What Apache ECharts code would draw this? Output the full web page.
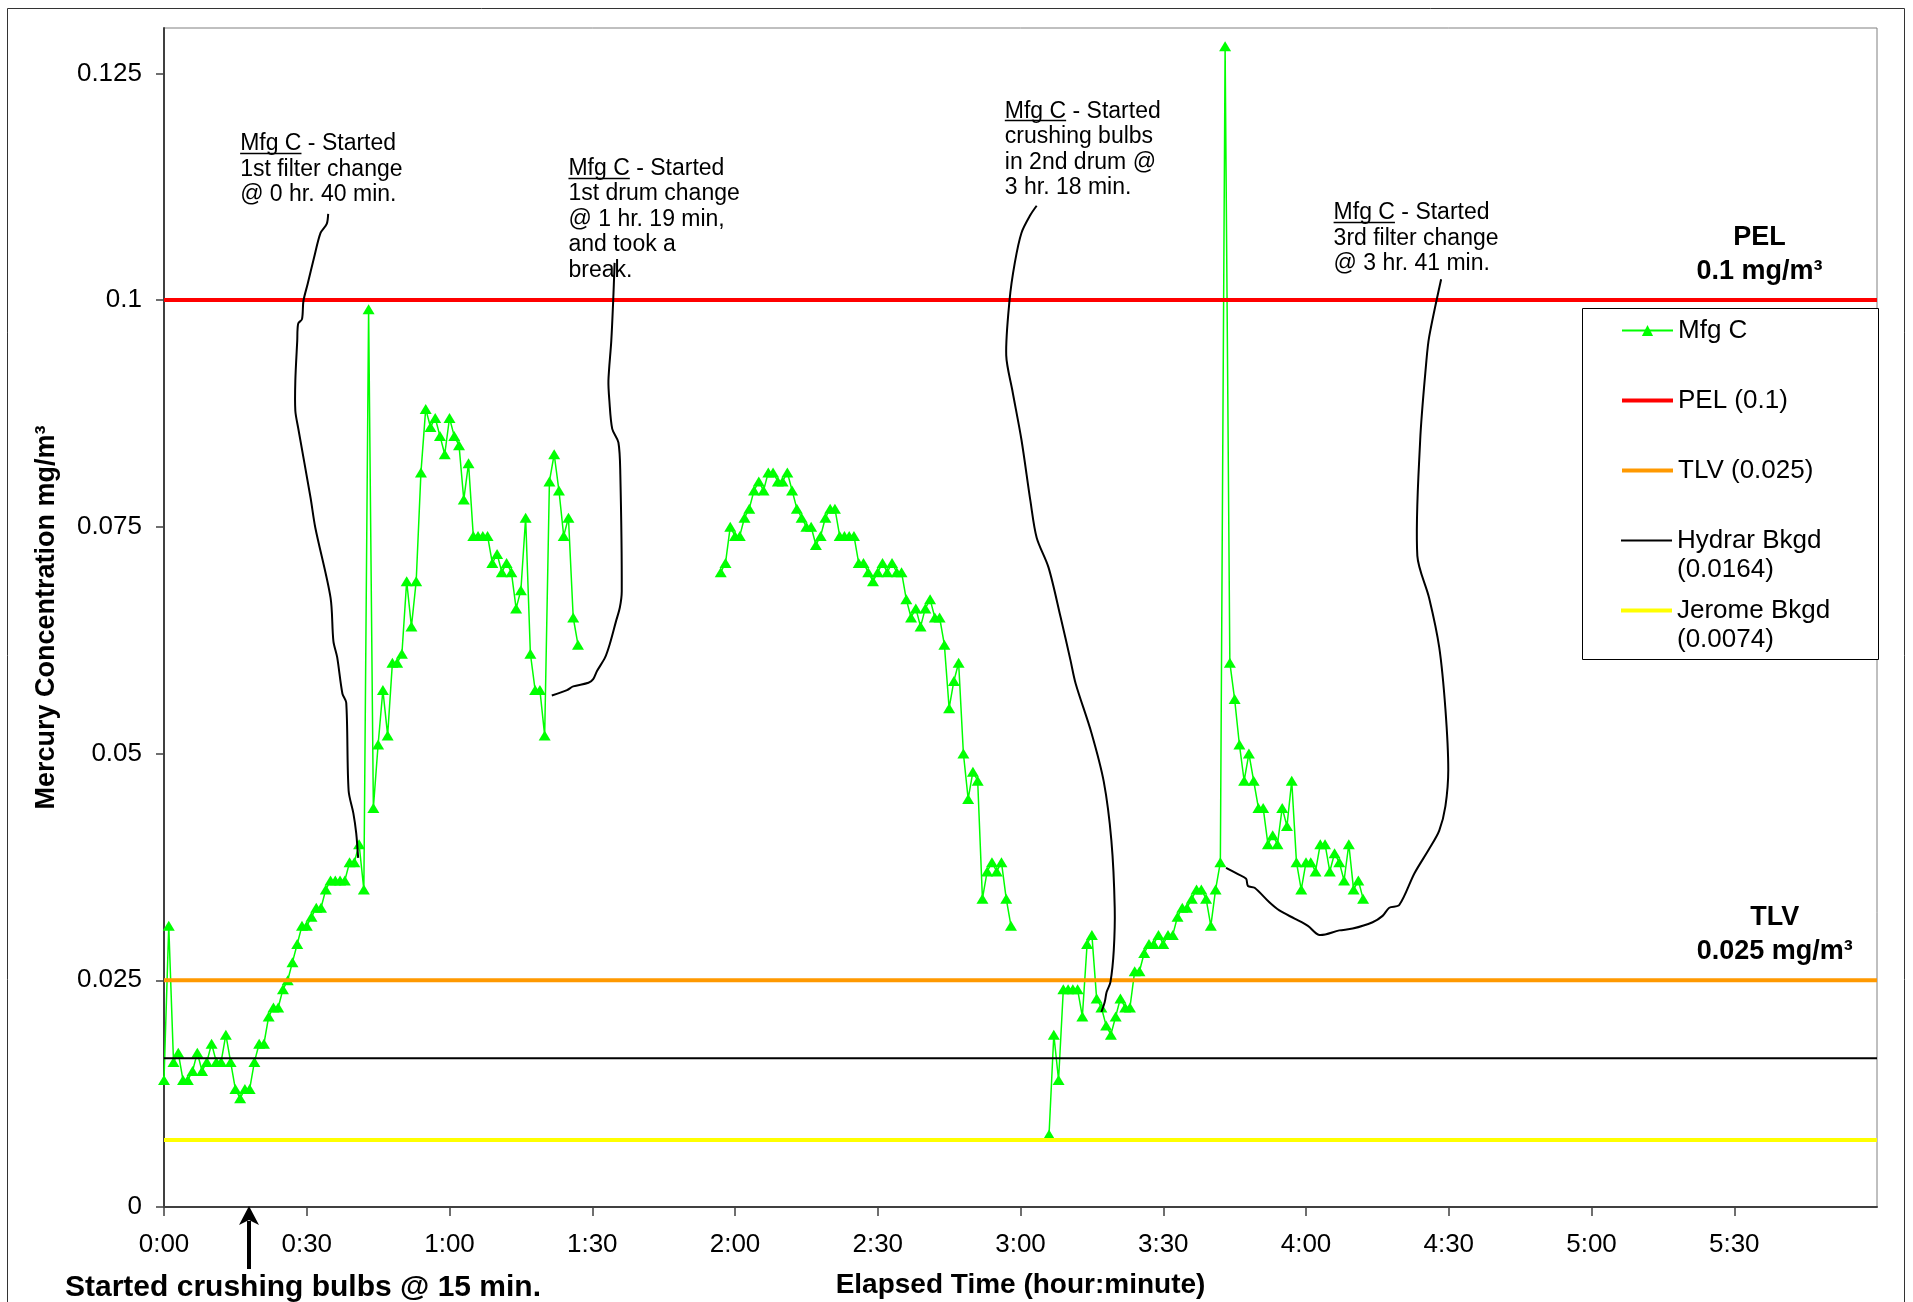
<!DOCTYPE html>
<html>
<head>
<meta charset="utf-8">
<title>Mercury Concentration - Mfg C</title>
<script src="https://cdn.jsdelivr.net/npm/echarts/dist/echarts.min.js"></script>
<style>
  html, body { margin: 0; padding: 0; background: #ffffff; }
  #chart { width: 1913px; height: 1302px; }
</style>
</head>
<body>
<div id="chart"></div>
<script>
// ---------------- measured data (one reading per minute, mg/m3) ----------------
const seg1Start = 0;
const seg1Values = [
  0.014, 0.031, 0.016, 0.017, 0.014, 0.014, 0.015, 0.017, 0.015, 0.016,
  0.018, 0.016, 0.016, 0.019, 0.016, 0.013, 0.012, 0.013, 0.013, 0.016,
  0.018, 0.018, 0.021, 0.022, 0.022, 0.024, 0.025, 0.027, 0.029, 0.031,
  0.031, 0.032, 0.033, 0.033, 0.035, 0.036, 0.036, 0.036, 0.036, 0.038,
  0.038, 0.040, 0.035, 0.099, 0.044, 0.051, 0.057, 0.052, 0.060, 0.060,
  0.061, 0.069, 0.064, 0.069, 0.081, 0.088, 0.086, 0.087, 0.085, 0.083,
  0.087, 0.085, 0.084, 0.078, 0.082, 0.074, 0.074, 0.074, 0.074, 0.071,
  0.072, 0.070, 0.071, 0.070, 0.066, 0.068, 0.076, 0.061, 0.057, 0.057,
  0.052, 0.080, 0.083, 0.079, 0.074, 0.076, 0.065, 0.062
];

const seg2Start = 117;
const seg2Values = [
  0.070, 0.071, 0.075, 0.074, 0.074, 0.076, 0.077, 0.079, 0.080, 0.079,
  0.081, 0.081, 0.080, 0.080, 0.081, 0.079, 0.077, 0.076, 0.075, 0.075,
  0.073, 0.074, 0.076, 0.077, 0.077, 0.074, 0.074, 0.074, 0.074, 0.071,
  0.071, 0.070, 0.069, 0.070, 0.071, 0.070, 0.071, 0.070, 0.070, 0.067,
  0.065, 0.066, 0.064, 0.066, 0.067, 0.065, 0.065, 0.062, 0.055, 0.058,
  0.060, 0.050, 0.045, 0.048, 0.047, 0.034, 0.037, 0.038, 0.037, 0.038,
  0.034, 0.031
];

const seg3Start = 186;
const seg3Values = [
  0.008, 0.019, 0.014, 0.024, 0.024, 0.024, 0.024, 0.021, 0.029, 0.030,
  0.023, 0.022, 0.020, 0.019, 0.021, 0.023, 0.022, 0.022, 0.026, 0.026,
  0.028, 0.029, 0.029, 0.030, 0.029, 0.030, 0.030, 0.032, 0.033, 0.033,
  0.034, 0.035, 0.035, 0.034, 0.031, 0.035, 0.038, 0.128, 0.060, 0.056,
  0.051, 0.047, 0.050, 0.047, 0.044, 0.044, 0.040, 0.041, 0.040, 0.044,
  0.042, 0.047, 0.038, 0.035, 0.038, 0.038, 0.037, 0.040, 0.040, 0.037,
  0.039, 0.038, 0.036, 0.040, 0.035, 0.036, 0.034
];

// exposure limits and background levels
const limitNames  = ['PEL (0.1)', 'TLV (0.025)', 'Hydrar Bkgd\n(0.0164)', 'Jerome Bkgd\n(0.0074)'];
const limitValues = [0.1, 0.025, 0.0164, 0.0074];

// axis ticks
const xTickMinutes = [0, 30, 60, 90, 120, 150, 180, 210, 240, 270, 300, 330];
const yTickValues  = [0, 0.025, 0.05, 0.075, 0.1, 0.125];

// ---------------- styling ----------------
const FONT = "'Liberation Sans', Arial, Helvetica, sans-serif";
const limitColors = ['#ff0000', '#ff9900', '#000000', '#ffff00'];
const limitWidths = [4, 4, 2, 4];
const X_MAX = 360;
// legend swatches; the two-line entries carry an empty tail so the stroke sits on the first text line
const THICK_ICON     = 'path://M0 0H51V4H0Z';
const THICK_ICON_TOP = 'path://M0 0H51V4H0ZM0 32.99H0.01V33H0Z';
const THIN_ICON_TOP  = 'path://M0 0H51V2H0ZM0 30.99H0.01V31H0Z';

// event notes: text block top-left and leader path, both in [minute, mg/m3]
const eventNotes = [
  { lines: ['Mfg C - Started', '1st filter change', '@ 0 hr. 40 min.'],
    at: [16.0, 0.1186],
    path: [[34.5,0.1095],[34.2,0.1084],[32.9,0.1074],[31.5,0.1046],[30.2,0.1018],[29.3,0.0999],
           [29.0,0.0979],[28.2,0.0974],[28.0,0.0955],[27.6,0.0911],[27.6,0.0878],[28.2,0.0859],
           [30.8,0.0782],[31.8,0.0749],[35.0,0.0672],[35.6,0.0624],[36.4,0.0606],[37.5,0.0566],
           [38.3,0.0556],[38.8,0.0459],[39.8,0.0434],[40.4,0.0412],[40.8,0.0385]] },
  { lines: ['Mfg C - Started', '1st drum change', '@ 1 hr. 19 min,', 'and took a', 'break.'],
    at: [85.0, 0.1159],
    path: [[94.7,0.1041],[94.4,0.0999],[94.0,0.0955],[93.4,0.0911],[93.6,0.0889],[94.2,0.0858],
           [95.5,0.0843],[95.9,0.0808],[96.2,0.0679],[95.8,0.0661],[95.0,0.0646],[93.7,0.0621],
           [92.7,0.0606],[91.0,0.0591],[90.2,0.0582],[89.2,0.0578],[86.0,0.0574],[84.7,0.0570],
           [81.5,0.0564]] },
  { lines: ['Mfg C - Started', 'crushing bulbs', 'in 2nd drum @', '3 hr. 18 min.'],
    at: [176.7, 0.1222],
    path: [[183.4,0.1104],[182.1,0.1094],[180.2,0.1074],[178.8,0.1041],[177.7,0.1000],[177.0,0.0939],
           [178.3,0.0900],[180.2,0.0846],[182.1,0.0778],[183.4,0.0738],[185.9,0.0705],[188.4,0.0651],
           [190.5,0.0603],[191.6,0.0577],[194.9,0.0523],[197.5,0.0469],[199.1,0.0404],[199.8,0.0330],
           [199.6,0.0283],[198.9,0.0248],[198.1,0.0237],[197.7,0.0226],[197.0,0.0215]] },
  { lines: ['Mfg C - Started', '3rd filter change', '@ 3 hr. 41 min.'],
    at: [245.8, 0.1110],
    path: [[268.4,0.1023],[265.9,0.0960],[265.3,0.0933],[264.0,0.0846],[263.4,0.0718],[265.9,0.0671],
           [268.0,0.0617],[269.3,0.0549],[269.9,0.0482],[269.3,0.0442],[268.0,0.0415],[265.9,0.0395],
           [262.8,0.0368],[259.6,0.0333],[257.5,0.0330],[256.1,0.0321],[254.0,0.0314],[249.8,0.0307],
           [247.0,0.0305],[242.8,0.0300],[240.4,0.0310],[237.6,0.0318],[234.4,0.0327],[232.3,0.0336],
           [229.2,0.0352],[227.8,0.0354],[227.4,0.0362],[225.7,0.0367],[223.2,0.0374]] }
];

// limit captions at the right side of the plot, block centre in [minute, mg/m3]
const limitCaptions = [
  { text: 'PEL\n0.1 mg/m\u00b3',   at: [335.3, 0.1050] },
  { text: 'TLV\n0.025 mg/m\u00b3', at: [338.5, 0.0300] }
];
const crushStartMinute = 17.8;

// ---------------- build ----------------
function toPoints(start, values) {
  return values.map((v, i) => [start + i, v]);
}
const mfgData = [].concat(
  toPoints(seg1Start, seg1Values),
  [[seg1Start + seg1Values.length, '-']],
  toPoints(seg2Start, seg2Values),
  [[seg2Start + seg2Values.length, '-']],
  toPoints(seg3Start, seg3Values)
);

function fmtMinutes(m) {
  const h = Math.floor(m / 60);
  const mm = Math.round(m % 60);
  return h + ':' + (mm < 10 ? '0' : '') + mm;
}

const chart = echarts.init(document.getElementById('chart'), null, { renderer: 'canvas' });

const series = [{
  name: 'Mfg C',
  type: 'line',
  data: mfgData,
  symbol: 'triangle',
  symbolSize: [12, 10],
  showAllSymbol: true,
  connectNulls: false,
  lineStyle: { color: '#00ff00', width: 1.5 },
  itemStyle: { color: '#00ff00' },
  z: 2
}].concat(limitNames.map((name, i) => ({
  name: name,
  type: 'line',
  data: [[0, limitValues[i]], [X_MAX, limitValues[i]]],
  symbol: 'none',
  lineStyle: { color: limitColors[i], width: limitWidths[i] },
  itemStyle: { color: limitColors[i] },
  silent: true,
  z: 3
})));

const legendBase = {
  orient: 'vertical', left: 1621, padding: 0,
  itemWidth: 51, selectedMode: false, z: 10
};
const legendText = { fontFamily: FONT, fontSize: 26, color: '#000', lineHeight: 29 };

chart.setOption({
  animation: false,
  backgroundColor: '#ffffff',
  grid: {
    left: 164, right: 36, top: 28, bottom: 95,
    outerBoundsMode: 'none', containLabel: false,
    show: true, borderColor: '#808080', borderWidth: 1, backgroundColor: '#ffffff'
  },
  xAxis: {
    type: 'value', min: 0, max: X_MAX, interval: 30,
    name: 'Elapsed Time (hour:minute)',
    nameLocation: 'middle', nameGap: 64,
    nameTextStyle: { fontFamily: FONT, fontSize: 28, fontWeight: 'bold', color: '#000' },
    axisLine: { show: true, onZero: false, lineStyle: { color: '#404040', width: 2 } },
    axisTick: { show: true, length: 9, customValues: xTickMinutes, lineStyle: { color: '#404040', width: 1.5 } },
    axisLabel: { customValues: xTickMinutes, formatter: fmtMinutes,
                 fontFamily: FONT, fontSize: 26, color: '#000', margin: 25 },
    splitLine: { show: false }
  },
  yAxis: {
    type: 'value', min: 0, max: 0.13, interval: 0.025,
    name: 'Mercury Concentration mg/m\u00b3',
    nameLocation: 'middle', nameGap: 104,
    nameTextStyle: { fontFamily: FONT, fontSize: 27, fontWeight: 'bold', color: '#000' },
    axisLine: { show: true, lineStyle: { color: '#404040', width: 2 } },
    axisTick: { show: true, length: 8, customValues: yTickValues, lineStyle: { color: '#404040', width: 1.5 } },
    axisLabel: { customValues: yTickValues,
                 formatter: v => (v > 0.1251 ? '' : String(+v.toFixed(4))),
                 fontFamily: FONT, fontSize: 26, color: '#000', margin: 22 },
    splitLine: { show: false }
  },
  legend: [
    Object.assign({}, legendBase, {
      top: 286, itemHeight: 14, itemGap: -19,
      textStyle: Object.assign({ padding: [30, 0, 30, 0], backgroundColor: 'rgba(255,255,255,0)' }, legendText),
      data: [
        { name: 'Mfg C' },
        { name: 'PEL (0.1)', icon: THICK_ICON },
        { name: 'TLV (0.025)', icon: THICK_ICON }
      ]
    }),
    Object.assign({}, legendBase, {
      top: 526, itemHeight: 33, itemGap: 12,
      textStyle: legendText,
      data: [
        { name: 'Hydrar Bkgd\n(0.0164)', icon: THIN_ICON_TOP },
        { name: 'Jerome Bkgd\n(0.0074)', icon: THICK_ICON_TOP }
      ]
    })
  ],
  series: series
});

// ---------------- annotations (placed through the grid's coordinate system) ----------------
function px(p) { return chart.convertToPixel({ gridIndex: 0 }, p); }

const measureCtx = document.createElement('canvas').getContext('2d');
function textWidth(str, font) { measureCtx.font = font; return measureCtx.measureText(str).width; }

const NOTE_SIZE = 23, NOTE_LH = 25.5;
const graphics = [];

// chart frame
graphics.push({ type: 'rect', z: 0, silent: true,
  shape: { x: 7.5, y: 8.5, width: 1897, height: 1400 },
  style: { fill: null, stroke: '#333', lineWidth: 1 } });

// legend box
graphics.push({ type: 'rect', z: 5, silent: true,
  shape: { x: 1582.5, y: 308.5, width: 296, height: 351 },
  style: { fill: '#ffffff', stroke: '#000', lineWidth: 1 } });

eventNotes.forEach(n => {
  const tl = px(n.at);
  graphics.push({ type: 'text', z: 20, silent: true, x: tl[0], y: tl[1],
    style: { text: n.lines.join('\n'), fontFamily: FONT, fontSize: NOTE_SIZE, lineHeight: NOTE_LH,
             fill: '#000', align: 'left', verticalAlign: 'top' } });
  const uw = textWidth('Mfg C', NOTE_SIZE + 'px ' + FONT);
  const uy = Math.round(tl[1] + NOTE_LH / 2 + 9) + 0.5;
  graphics.push({ type: 'line', z: 20, silent: true,
    shape: { x1: tl[0], y1: uy, x2: tl[0] + uw, y2: uy },
    style: { stroke: '#000', lineWidth: 1.3 } });
  graphics.push({ type: 'polyline', z: 19, silent: true,
    shape: { points: n.path.map(px), smooth: 0.3 },
    style: { stroke: '#000', lineWidth: 2, fill: null } });
});

limitCaptions.forEach(c => {
  const p = px(c.at);
  graphics.push({ type: 'text', z: 20, silent: true, x: p[0], y: p[1],
    style: { text: c.text, fontFamily: FONT, fontSize: 27, fontWeight: 'bold', lineHeight: 34,
             fill: '#000', align: 'center', verticalAlign: 'middle' } });
});

// arrow marking the start of bulb crushing
const base = px([crushStartMinute, 0]);
const ax = Math.round(base[0]);
graphics.push({ type: 'line', z: 20, silent: true,
  shape: { x1: ax, y1: base[1] + 14, x2: ax, y2: base[1] + 62 },
  style: { stroke: '#000', lineWidth: 4 } });
graphics.push({ type: 'polygon', z: 20, silent: true,
  shape: { points: [[ax, base[1] - 1], [ax - 10, base[1] + 18], [ax, base[1] + 13], [ax + 10, base[1] + 18]] },
  style: { fill: '#000' } });
graphics.push({ type: 'text', z: 20, silent: true, x: 65, y: 1288,
  style: { text: 'Started crushing bulbs @ 15 min.', fontFamily: FONT, fontSize: 30, fontWeight: 'bold',
           fill: '#000', align: 'left', verticalAlign: 'middle' } });

chart.setOption({ graphic: { elements: graphics } });
</script>
</body>
</html>
